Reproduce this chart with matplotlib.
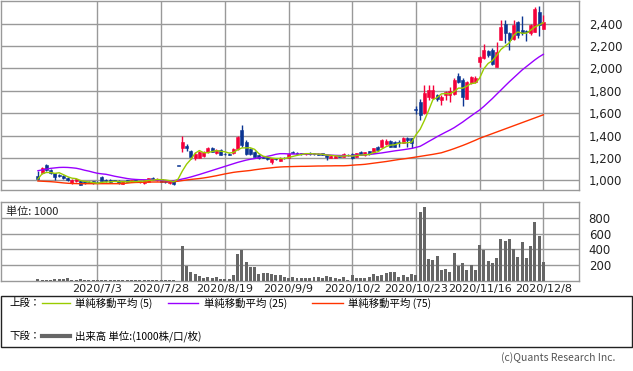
import matplotlib
matplotlib.use("Agg")
import matplotlib.pyplot as plt
import numpy as np
import pandas as pd
from matplotlib.patches import Rectangle
from matplotlib.lines import Line2D

# ---------------- data ----------------
opens = [1038,1063,1137,1090,1062,1045,1040,1025,975,990,
         995,990,985,994,985,1030,1000,1003,1003,995,
         970,1000,990,1000,988,975,988,1020,1005,1012,
         995,975,995,1130,1286,1305,1264,1196,1200,1215,
         1250,1290,1240,1275,1238,1235,1241,1280,1449,1345,
         1280,1250,1225,1210,1205,1165,1195,1175,1200,1200,
         1255,1245,1240,1238,1240,1240,1238,1240,1225,1200,
         1202,1215,1210,1230,1238,1211,1250,1225,1261,1247,
         1300,1300,1320,1350,1345,1340,1335,1380,1375,1640,
         1700,1597,1740,1735,1762,1716,1762,1760,1770,1930,
         1895,1730,1865,1880,2058,2088,2156,2162,2013,2257,
         2394,2311,2266,2415,2340,2330,2311,2326,2504,2355]
highs = [1083,1115,1142,1100,1065,1055,1045,1030,1010,1015,
         1000,995,990,998,992,1035,1008,1008,1006,1000,
         998,1005,1006,1004,995,1003,1025,1028,1025,1015,
         998,995,998,1130,1396,1320,1270,1250,1262,1260,
         1295,1295,1280,1280,1245,1242,1285,1395,1494,1360,
         1290,1258,1235,1215,1210,1200,1200,1205,1210,1240,
         1262,1250,1248,1245,1250,1248,1245,1245,1230,1222,
         1222,1225,1240,1238,1242,1245,1258,1255,1265,1290,
         1305,1365,1365,1358,1350,1360,1385,1385,1380,1665,
         1722,1850,1850,1850,1775,1760,1800,1830,1910,1960,
         1910,1885,1930,1930,2110,2221,2165,2177,2235,2435,
         2435,2320,2430,2424,2470,2345,2400,2545,2560,2480]
lows = [1007,1055,1085,1058,1000,1030,1012,995,968,985,
        955,965,975,970,978,995,985,980,990,965,
        965,982,985,982,980,970,985,1002,998,982,
        980,970,955,1130,1255,1265,1190,1180,1195,1205,
        1245,1250,1235,1222,1225,1222,1235,1275,1300,1230,
        1230,1205,1190,1195,1180,1150,1180,1170,1190,1195,
        1240,1232,1230,1225,1230,1225,1228,1225,1180,1195,
        1198,1205,1205,1220,1190,1205,1222,1220,1230,1240,
        1265,1295,1315,1295,1295,1300,1330,1300,1290,1590,
        1538,1590,1720,1725,1710,1670,1720,1700,1760,1870,
        1663,1725,1860,1870,2010,2080,2105,2028,2010,2250,
        2222,2162,2255,2275,2300,2240,2300,2320,2290,2350]
closes = [1012,1107,1092,1068,1032,1040,1020,1002,1003,1010,
          960,975,980,975,982,997,990,988,994,972,
          995,988,1003,985,990,1000,1020,1010,1015,985,
          985,990,965,1130,1345,1290,1205,1235,1255,1250,
          1290,1255,1272,1228,1232,1230,1280,1389,1315,1235,
          1235,1211,1200,1200,1190,1195,1190,1200,1198,1235,
          1243,1238,1235,1240,1235,1232,1230,1228,1205,1218,
          1215,1212,1232,1225,1196,1241,1230,1250,1235,1285,
          1270,1360,1355,1300,1302,1335,1380,1360,1330,1628,
          1583,1776,1810,1805,1722,1746,1790,1800,1900,1880,
          1745,1880,1920,1915,2103,2162,2117,2043,2147,2370,
          2317,2257,2385,2296,2311,2320,2385,2533,2385,2415]
volumes = [18,15,8,8,18,22,22,30,8,5,
           18,4,4,4,4,4,4,4,4,4,
           4,4,4,4,4,4,15,5,5,15,
           5,5,5,3,446,191,106,85,60,38,
           51,42,51,25,25,21,72,340,391,242,
           178,178,89,102,98,89,68,72,51,38,
           47,38,34,34,38,47,47,38,60,47,
           34,25,51,10,72,38,38,38,51,85,
           64,72,98,115,115,51,72,51,85,72,
           880,939,280,264,315,136,149,110,353,191,
           225,136,200,136,455,395,250,225,289,531,
           506,531,400,302,493,293,442,748,570,238]
ma25 = [1086,1093,1100,1107,1111,1115,1116,1115,1112,1108,
        1100,1090,1082,1072,1063,1058,1054,1046,1037,1030,
        1023,1016,1011,1008,1006,1005,1004,1003,1003,1001,
        998,995,997,1003,1012,1020,1030,1041,1052,1064,
        1076,1088,1100,1112,1124,1136,1148,1160,1170,1180,
        1188,1194,1201,1208,1214,1222,1232,1238,1238,1236,
        1235,1235,1235,1235,1235,1235,1235,1232,1228,1225,
        1223,1222,1221,1220,1221,1223,1226,1229,1232,1235,
        1240,1245,1251,1257,1263,1268,1273,1279,1285,1294,
        1304,1325,1347,1368,1390,1410,1430,1449,1470,1495,
        1520,1548,1575,1602,1628,1660,1695,1730,1768,1805,
        1843,1880,1915,1950,1985,2015,2045,2075,2102,2125]
ma75 = [994,992,990,988,985,981,977,974,972,971,
        970,970,970,970,970,970,970,970,970,970,
        972,975,979,981,982,983,984,985,985,985,
        986,987,988,992,998,1003,1008,1012,1016,1021,
        1027,1034,1041,1049,1057,1064,1071,1076,1080,1084,
        1088,1094,1099,1104,1108,1112,1116,1119,1121,1122,
        1123,1124,1125,1125,1126,1127,1128,1128,1129,1129,
        1130,1130,1130,1132,1135,1138,1140,1143,1148,1153,
        1158,1163,1168,1174,1180,1186,1191,1196,1202,1208,
        1214,1220,1226,1232,1239,1246,1258,1270,1283,1297,
        1311,1326,1342,1358,1375,1389,1403,1417,1431,1445,
        1459,1473,1487,1501,1515,1529,1543,1557,1571,1585]
date_idx = [14, 29, 44, 59, 74, 89, 104, 119]
date_labels = ["2020/7/3", "2020/7/28", "2020/8/19", "2020/9/9",
               "2020/10/2", "2020/10/23", "2020/11/16", "2020/12/8"]
price_ticks = [1000, 1200, 1400, 1600, 1800, 2000, 2200, 2400]
vol_ticks = [200, 400, 600, 800]

# ---------------- style ----------------
RED = "#f5003a"
BLUE = "#0b3592"
C5, C25, C75 = "#99cc00", "#9900ff", "#ff3300"
GRID = "#999999"
JP = ["Noto Sans CJK JP", "DejaVu Sans"]

W, H = 633, 371
fig = plt.figure(figsize=(W / 100, H / 100), dpi=100)

def fx(px):
    return px / W

def fy(py):
    return 1 - py / H

n = len(closes)
x = np.arange(n)
ma5 = pd.Series(closes).rolling(5, min_periods=1).mean().values

xlim = (-8.7, 127.4)
# price panel
axp = fig.add_axes([fx(1), fy(190.3), fx(578), (190.3 - 1) / H])
axp.set_xlim(*xlim)
axp.set_ylim(911, 2601)
for s in axp.spines.values():
    s.set_color(GRID)
    s.set_linewidth(1)
axp.set_xticks(date_idx)
axp.set_xticklabels([])
axp.set_yticks(price_ticks)
axp.yaxis.tick_right()
axp.set_yticklabels([f"{v:,}" for v in price_ticks], fontsize=8.5, color="#222222")
axp.tick_params(length=0, pad=7)
axp.grid(True, color=GRID, linewidth=1)
axp.set_axisbelow(True)

w = 0.7
for i in range(n):
    o, h, l, c = opens[i], highs[i], lows[i], closes[i]
    col = RED if c > o else BLUE
    axp.vlines(i, l, h, color=col, linewidth=1, zorder=3)
    bot = min(o, c)
    ht = max(abs(c - o), 4)
    axp.add_patch(Rectangle((i - w / 2, bot), w, ht, facecolor=col,
                            edgecolor=col, linewidth=0.4, zorder=4))

axp.plot(x, ma75, color=C75, linewidth=1.0, zorder=5)
axp.plot(x, ma25, color=C25, linewidth=1.0, zorder=5)
axp.plot(x, ma5, color=C5, linewidth=1.0, zorder=5)

# volume panel
axv = fig.add_axes([fx(1), fy(280.8), fx(578), (280.8 - 201.7) / H])
axv.set_xlim(*xlim)
axv.set_ylim(0, 1010)
for s in axv.spines.values():
    s.set_color(GRID)
    s.set_linewidth(1)
axv.set_xticks(date_idx)
axv.set_xticklabels(date_labels, fontsize=8, color="#222222")
axv.set_yticks(vol_ticks)
axv.yaxis.tick_right()
axv.set_yticklabels([str(v) for v in vol_ticks], fontsize=8.5, color="#222222")
axv.tick_params(length=0, pad=7)
axv.tick_params(axis="x", pad=2)
axv.grid(True, color=GRID, linewidth=1)
axv.set_axisbelow(True)
axv.bar(x, volumes, width=0.7, color="#666666", zorder=3)
axv.text(0.008, 0.88, "単位: 1000", transform=axv.transAxes, fontsize=8,
         family=JP, va="center", ha="left", color="#222222")

# legend box
fig.patches.append(Rectangle((fx(1), fy(346.5)), fx(631), (346.5 - 295.5) / H,
                             transform=fig.transFigure, fill=False,
                             edgecolor="#222222", linewidth=1))
ty1, ty2 = fy(303), fy(336)
fig.text(fx(9), ty1, "上段：", fontsize=7.5, family=JP, va="center")
fig.add_artist(Line2D([fx(42), fx(70)], [ty1, ty1], color=C5, linewidth=1, transform=fig.transFigure))
fig.text(fx(75), ty1, "単純移動平均 (5)", fontsize=7.5, family=JP, va="center")
fig.add_artist(Line2D([fx(168), fx(198)], [ty1, ty1], color=C25, linewidth=1, transform=fig.transFigure))
fig.text(fx(204), ty1, "単純移動平均 (25)", fontsize=7.5, family=JP, va="center")
fig.add_artist(Line2D([fx(312), fx(343)], [ty1, ty1], color=C75, linewidth=1, transform=fig.transFigure))
fig.text(fx(348), ty1, "単純移動平均 (75)", fontsize=7.5, family=JP, va="center")
fig.text(fx(9), ty2, "下段：", fontsize=7.5, family=JP, va="center")
fig.add_artist(Line2D([fx(42), fx(70)], [ty2, ty2], color="#666666", linewidth=3, transform=fig.transFigure))
fig.text(fx(75), ty2, "出来高 単位:(1000株/口/枚)", fontsize=7.5, family=JP, va="center")
fig.text(fx(615), fy(358), "(c)Quants Research Inc.", fontsize=7.5, family=JP,
         va="center", ha="right", color="#555555")

fig.savefig("out.png", dpi=100)
